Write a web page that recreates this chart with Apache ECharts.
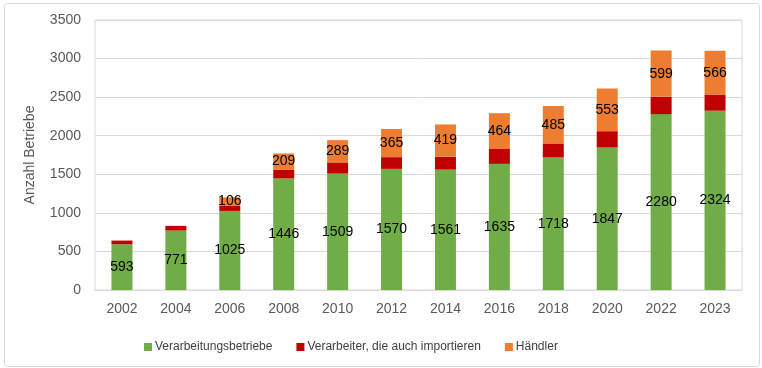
<!DOCTYPE html>
<html>
<head>
<meta charset="utf-8">
<script src="https://cdn.jsdelivr.net/npm/echarts@6/dist/echarts.min.js"></script>
<style>html,body{margin:0;padding:0;background:#fff;}#c{width:762px;height:368px;}</style>
</head>
<body>
<div id="c"></div>
<script>
const categories = ['2002','2004','2006','2008','2010','2012','2014','2016','2018','2020','2022','2023'];
const verarbeitung = [593, 771, 1025, 1446, 1509, 1570, 1561, 1635, 1718, 1847, 2280, 2324];
const importeure = [48, 60, 70, 115, 145, 152, 166, 193, 182, 212, 225, 210];
const haendler = [null, null, 106, 209, 289, 365, 419, 464, 485, 553, 599, 566];
const yTicks = { min: 0, max: 3500, interval: 500 };

const chart = echarts.init(document.getElementById('c'));
const font = 'Liberation Sans, Arial, sans-serif';
chart.setOption({
  animation: false,
  textStyle: { fontFamily: font },
  graphic: [{
    type: 'rect', shape: { x: 4.5, y: 3.5, width: 755, height: 363, r: 3 },
    style: { fill: 'none', stroke: '#d9d9d9', lineWidth: 1 }, silent: true
  }],
  grid: { left: 95, right: 20, top: 20, bottom: 78, show: true, borderColor: '#d9d9d9', borderWidth: 1 },
  legend: {
    left: 139, top: 336, itemWidth: 8, itemHeight: 8, itemGap: 24,
    icon: 'rect',
    textStyle: { fontFamily: font, fontSize: 12, color: '#404040', padding: [0, 0, 0, -2] },
    data: ['Verarbeitungsbetriebe', 'Verarbeiter, die auch importieren', 'Händler']
  },
  xAxis: {
    type: 'category', data: categories,
    axisLine: { show: true, lineStyle: { color: '#d9d9d9' } },
    axisTick: { show: false },
    axisLabel: { color: '#595959', fontSize: 14, margin: 12 }
  },
  yAxis: {
    type: 'value', min: yTicks.min, max: yTicks.max, interval: yTicks.interval,
    name: 'Anzahl Betriebe', nameLocation: 'middle', nameGap: 58,
    nameTextStyle: { color: '#595959', fontSize: 14 },
    axisLine: { show: false }, axisTick: { show: false },
    axisLabel: { color: '#595959', fontSize: 14, margin: 14, formatter: v => String(v) },
    splitLine: { lineStyle: { color: '#d9d9d9' } }
  },
  series: [
    {
      name: 'Verarbeitungsbetriebe', type: 'bar', stack: 's', data: verarbeitung,
      barWidth: 21, itemStyle: { color: '#70AD47' },
      label: { show: true, position: 'inside', color: '#000', fontSize: 14 }
    },
    {
      name: 'Verarbeiter, die auch importieren', type: 'bar', stack: 's', data: importeure,
      itemStyle: { color: '#C00000' }
    },
    {
      name: 'Händler', type: 'bar', stack: 's', data: haendler,
      itemStyle: { color: '#ED7D31' },
      label: { show: true, position: 'inside', color: '#000', fontSize: 14,
        formatter: p => (p.value == null ? '' : p.value) }
    }
  ]
});
</script>
</body>
</html>
